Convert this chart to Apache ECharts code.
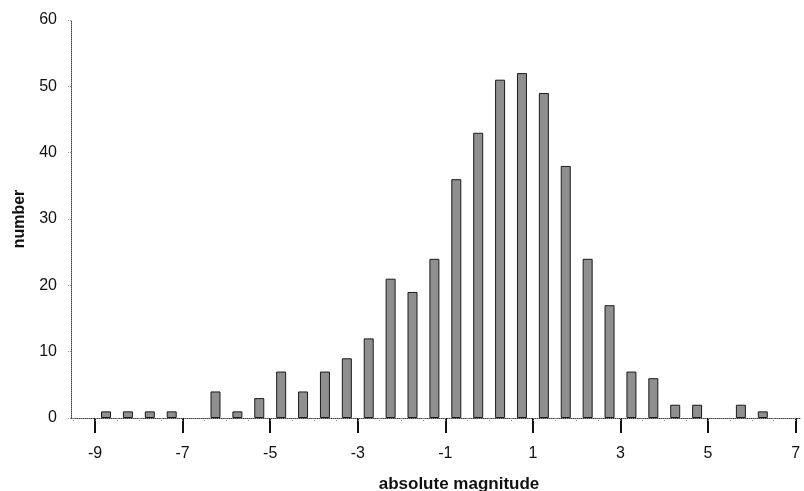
<!DOCTYPE html>
<html>
<head>
<meta charset="utf-8">
<script src="https://cdn.jsdelivr.net/npm/echarts@6/dist/echarts.min.js"></script>
<style>html,body{margin:0;padding:0;background:#fff}#c{width:804px;height:491px}</style>
</head>
<body>
<div id="c"></div>
<script>
// bin centers (absolute magnitude, 0.5-wide bins)
const binCenters = [-8.75,-8.25,-7.75,-7.25,-6.75,-6.25,-5.75,-5.25,-4.75,-4.25,-3.75,-3.25,-2.75,-2.25,-1.75,-1.25,-0.75,-0.25,0.25,0.75,1.25,1.75,2.25,2.75,3.25,3.75,4.25,4.75,5.25,5.75,6.25,6.75];
// number of stars per bin
const counts = [1,1,1,1,0,4,1,3,7,4,7,9,12,21,19,24,36,43,51,52,49,38,24,17,7,6,2,2,0,2,1,0];
// x tick labels
const xTickLabels = [-9,-7,-5,-3,-1,1,3,5,7];
// minor ticks at bin edges
const minorTicks = [];
for (let v = -9.5; v <= 7; v += 0.5) minorTicks.push(v);

const data = binCenters.map((c, i) => counts[i] > 0
  ? { value: [c, counts[i]] }
  : { value: [c, counts[i]], itemStyle: { opacity: 0 } });
const font = '"Liberation Sans", Arial, sans-serif';
const chart = echarts.init(document.getElementById('c'));
chart.setOption({
  animation: false,
  backgroundColor: '#fff',
  grid: { left: 71, right: 4, top: 20, bottom: 73, containLabel: false, outerBoundsMode: 'none' },
  xAxis: [{
    type: 'value', min: -9.55, max: 7.1,
    name: 'absolute magnitude', nameLocation: 'middle', nameGap: 58,
    nameTextStyle: { fontFamily: font, fontWeight: 'bold', fontSize: 17, color: '#111', padding: [0, 0, 0, 47] },
    axisLine: { show: true, onZero: false, lineStyle: { color: '#444', type: 'dotted', width: 1 } },
    axisTick: { show: true, customValues: xTickLabels, length: 15, inside: false, lineStyle: { color: '#111', width: 2 } },
    axisLabel: { customValues: xTickLabels, fontFamily: font, fontSize: 16, color: '#111', margin: 28 },
    splitLine: { show: false }
  }, {
    type: 'value', min: -9.55, max: 7.1, position: 'bottom',
    axisLine: { show: false },
    axisTick: { show: true, customValues: minorTicks, length: 4, lineStyle: { color: '#888', width: 1, type: 'dotted' } },
    axisLabel: { show: false },
    splitLine: { show: false }
  }],
  yAxis: {
    type: 'value', min: 0, max: 60, interval: 10,
    name: 'number', nameLocation: 'middle', nameGap: 43,
    nameTextStyle: { fontFamily: font, fontWeight: 'bold', fontSize: 16, color: '#111' },
    axisLine: { show: true, onZero: false, lineStyle: { color: '#444', type: 'dotted', width: 1 } },
    axisTick: { show: true, length: 4, lineStyle: { color: '#999', type: 'dotted' } },
    axisLabel: { fontFamily: font, fontSize: 16, color: '#111', margin: 14 },
    splitLine: { show: false }
  },
  series: [{
    type: 'bar', xAxisIndex: 0, data: data, barWidth: 10,
    itemStyle: { color: '#8f8f8f', borderColor: '#1a1a1a', borderWidth: 1 }
  }]
});
</script>
</body>
</html>
